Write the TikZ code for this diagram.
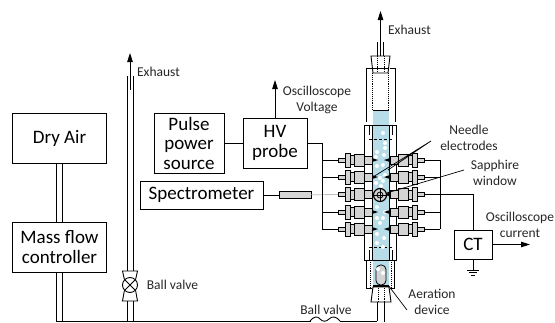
\documentclass[tikz,border=0pt]{standalone}
\usepackage{fontspec}
\setmainfont{Carlito}
\usetikzlibrary{arrows.meta}
\definecolor{waterblue}{HTML}{B7DDE8}
\definecolor{partgrey}{HTML}{D4D4D4}
\tikzset{
	unitbox/.style={rectangle, draw, line width=0.9pt, inner sep=0pt, align=center, font=\fontsize{19}{19.5}\selectfont},
	note/.style={inner sep=0pt, align=center, text=black!85, font=\fontsize{13.5}{16}\selectfont},
	pipe/.style={line width=0.9pt},
	wire/.style={line width=0.8pt},
	outarrow/.style={line width=0.9pt, -{Triangle[length=9pt,width=5.5pt]}},
	part/.style={draw, line width=0.8pt, fill=partgrey},
	leader/.style={line width=0.7pt}
}
\begin{document}
\begin{tikzpicture}[x=1pt,y=-1pt]
	\useasboundingbox (0,0) rectangle (555,322);

	\draw (59.5,138) node [unitbox, minimum width=94pt, minimum height=50pt] (dryair) {Dry Air};
	\draw (59.5,247) node [unitbox, minimum width=94pt, minimum height=50pt] (massflow) {Mass flow\\controller};
	\draw (189,143) node [unitbox, minimum width=70pt, minimum height=60pt] (pulse) {Pulse\\power\\source};
	\draw (275,143) node [unitbox, minimum width=64pt, minimum height=50pt] (hvprobe) {HV\\probe};
	\draw (201.5,195) node [unitbox, minimum width=123pt, minimum height=28pt] (spectro) {Spectrometer};
	\draw (473,244.5) node [unitbox, minimum width=38pt, minimum height=29pt] (ct) {CT};
	\draw (295,195) node [part, rectangle, minimum width=32pt, minimum height=7pt, inner sep=0pt] (rod) {};

	% text
	\draw (158.5,72) node [note] (exhaustleft) {Exhaust};
	\draw (409.5,30) node [note] (exhausttop) {Exhaust};
	\draw (317,100) node [note] (scopevolt) {Oscilloscope\\Voltage};
	\draw (469,138) node [note] (needletext) {Needle\\electrodes};
	\draw (495,172.5) node [note] (windowtext) {Sapphire\\window};
	\draw (520,225) node [note] (scopecur) {Oscilloscope\\current};
	\draw (172.5,285) node [note] (ballleft) {Ball valve};
	\draw (326,310) node [note] (ballbottom) {Ball valve};
	\draw (432,302) node [note] (aeration) {Aeration\\device};

	% gas lines
	\coordinate (arrowleft) at (130,53);
	\coordinate (ventend) at (130,90);
	\draw [outarrow] (ventend) -- (arrowleft);
	\draw [pipe] (56,163) -- (56,222) (62,163) -- (62,222);
	\draw [pipe] (56,272) -- (56,321) -- (377,321) (62,272) -- (62,321);
	\draw [pipe] (127,76) -- (127,271) (133,76) -- (133,271);
	\draw [pipe] (127,301) -- (127,321) (133,301) -- (133,321);

	% valve on the vent line
	\draw (130,285) node [circle, draw, pipe, fill=white, minimum size=15pt, inner sep=0pt] (valve) {};
	\draw [pipe] (valve.north west) -- (122.5,271) -- (137.5,271) -- (valve.north east);
	\draw [pipe] (valve.south west) -- (122.5,301) -- (137.5,301) -- (valve.south east);
	\draw [pipe] (valve.north west) -- (valve.south east) (valve.north east) -- (valve.south west);

	% valve on the bottom line
	\draw [white, line width=1.5pt] (311,321) -- (340,321);
	\draw [pipe] (310,321) .. controls (314,316) and (318,316) .. (320,319) .. controls (323,322) and (326,322) .. (329,319) .. controls (332,316) and (336,316) .. (340,321);

	% water
	\fill [waterblue] (372.5,110) rectangle (389,287);

	% reactor, top
	\draw [pipe] (377.5,42) -- (377.5,56) (383,42) -- (383,56);
	\coordinate (toptube) at (380.5,56);
	\coordinate (toparrow) at (380.5,11);
	\draw [outarrow] (toptube) -- (toparrow);
	\draw [pipe] (366,122) -- (366,68) -- (371.5,68) (389.5,68) -- (395,68) -- (395,122);
	\draw [pipe, fill=white] (371,56) -- (390,56) -- (388,73) -- (373,73) -- cycle;
	\draw [pipe] (372.5,68) -- (388.5,68);
	\draw [densely dotted, pipe] (377.5,56) -- (377.5,73) (384,56) -- (384,73);
	\draw [densely dotted, pipe] (372.5,73) -- (372.5,110) (388.5,73) -- (388.5,110);
	\draw [wire] (372.5,110) -- (389,110);

	% reactor, middle
	\draw [pipe] (364,260) -- (364,125) -- (396,125) -- (396,260) -- cycle;
	\draw [pipe] (369,125) -- (369,135) (392,125) -- (392,135);
	\draw [pipe, densely dashed] (369,139) -- (392,139);
	\draw [pipe] (372.5,125) -- (372.5,139) (389,125) -- (389,139);
	\draw [pipe, densely dashed] (369,247) -- (392,247);
	\draw [pipe] (369,250) -- (369,260) (392,250) -- (392,260);
	\draw [wire] (372.5,139) -- (372.5,260) (389,139) -- (389,260);

	% reactor, bottom
	\draw [pipe] (366,260) -- (366,288) -- (372,288) (394,260) -- (394,288) -- (390,288);
	\draw [densely dotted, pipe] (370,260) -- (370,287) (391,260) -- (391,287);
	\draw [rounded corners=4.5pt, wire, fill=partgrey] (376,285) -- (376,265) -- (386,265) -- (386,285) -- cycle;
	\draw [pipe, fill=white] (373,287) -- (389,287) -- (391,302) -- (371,302) -- cycle;
	\draw [line width=1.4pt] (373,286) -- (389,286);
	\draw [densely dotted, pipe] (378,288) -- (378,302) (384,288) -- (384,302);
	\draw [pipe] (377,302) -- (377,321) (384,302) -- (384,322);

	% bubbles
	\foreach \bx/\by in {383/133,385/143,385/148,377/152,384/155,376/157,377/166,383/165,385/175,380/178,383/181,376/183,381/186,377/207,385/212,377/218,383/218,380/223,377/234,384/238,377/243,383/247,378/269,383/273}
		\fill [white] (\bx,\by) circle (2pt);

	% electrode rows
	\foreach \rowy [count=\i] in {160,177,194.5,212,229} {
		\foreach \side/\tag in {1/R,-1/L} {
			\begin{scope}[shift={(381,\rowy)}, xscale=\side]
				\fill [black] (9,-2) -- (3,0) -- (9,2) -- cycle;
				\draw [part] (9,-4) rectangle (17,4);
				\draw [part] (17,-6) rectangle (27,6);
				\draw [part] (27,-4.5) rectangle (31,4.5);
				\draw [part] (31,-7) rectangle (36,7);
				\draw [part] (36,-2) rectangle (43,2);
				\coordinate (rowend\tag\i) at (43,0);
				\coordinate (bus\tag\i) at (59,0);
			\end{scope}
		}
	}
	\draw [wire] (busL1) -- (busL5) (busR1) -- (busR5);
	\foreach \i in {1,2,4,5}
		\draw [wire] (busL\i) -- (rowendL\i);
	\foreach \i in {1,...,5}
		\draw [wire] (busR\i) -- (rowendR\i);
	\draw [wire, black!25] (rod) -- (rowendL3);

	% sapphire window
	\draw (380,195) node [circle, draw, line width=1.2pt, fill=partgrey, minimum size=13pt, inner sep=0pt] (sapphire) {};
	\draw [wire] (sapphire) circle (3pt);
	\draw [wire] (sapphire.north) -- (sapphire.south) (sapphire.west) -- (sapphire.east);

	% connections
	\draw [wire] (pulse) -- (hvprobe);
	\draw [wire] (hvprobe.east) -| (busL3);
	\draw [wire] (spectro) -- (rod);
	\draw [outarrow] (hvprobe.north) -- (275,80);
	\coordinate (ctout) at (530,244.5);
	\draw [outarrow] (ct) -- (ctout);
	\draw [wire] (busR3) -| (ct.north);

	% ground
	\coordinate (gnd) at (473,270);
	\draw [wire] (ct.south) -- (gnd);
	\draw [wire] (467,270) -- (479,270) (469,272.5) -- (477,272.5) (471,275) -- (475,275);

	% leaders
	\coordinate (needlefrom) at (431,141);
	\coordinate (needleone) at (373,177);
	\coordinate (needletwo) at (388,170);
	\coordinate (windowfrom) at (464,170);
	\coordinate (aerfrom) at (407,310);
	\coordinate (aerto) at (388,285);
	\draw [leader] (needlefrom) -- (needleone) (needlefrom) -- (needletwo);
	\draw [leader] (windowfrom) -- (sapphire);
	\draw [leader] (aerfrom) -- (aerto);
\end{tikzpicture}
\end{document}
